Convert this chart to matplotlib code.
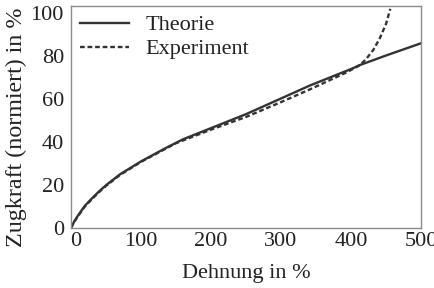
import numpy as np
import matplotlib
matplotlib.use("Agg")
import matplotlib.pyplot as plt
import matplotlib.transforms as mtransforms

# values
theorie_x = [0, 5, 10, 20, 30, 40, 50, 70, 100, 134, 160, 200, 250, 300, 341, 400, 413, 450, 500]
theorie_y = [0, 3.2, 5.8, 10.4, 13.8, 17, 19.9, 25, 31, 37, 41.3, 46.5, 53, 60.3, 66.3, 74, 75.9, 80.3, 86]

exp_x = [0, 5, 10, 20, 30, 40, 50, 70, 100, 150, 200, 250, 300, 341, 394, 413, 422, 432, 441, 450, 456]
exp_y = [0, 3.0, 5.5, 10.1, 13.5, 16.7, 19.6, 24.7, 30.8, 39.5, 45.8, 51.7, 58.6, 64.5, 72.5, 75.9, 78.8, 83.0, 88.3, 95, 102]

plt.rcParams['font.family'] = ['Liberation Serif', 'DejaVu Serif']
plt.rcParams['font.size'] = 16

fig = plt.figure(figsize=(4.35, 2.88), dpi=100)
ax = fig.add_axes([0.163, 0.208, 0.805, 0.771])

line_col = '#333333'
ax.plot(theorie_x, theorie_y, color=line_col, lw=1.7, label='Theorie')
ax.plot(exp_x, exp_y, color=line_col, lw=1.7, ls=(0, (2.0, 1.2)), label='Experiment')

ax.set_xlim(0, 500)
ax.set_ylim(0, 103.3)
ax.set_xticks([0, 100, 200, 300, 400, 500])
ax.set_yticks([0, 20, 40, 60, 80, 100])
ax.tick_params(length=0, colors='#222222')
ax.tick_params(axis='x', pad=3)
ax.tick_params(axis='y', pad=5)

# nudge the x "0" label right, away from the y "0"
lbl0 = ax.get_xticklabels()[0]
lbl0.set_transform(lbl0.get_transform() + mtransforms.ScaledTranslation(5 / 100, 0, fig.dpi_scale_trans))

for s in ax.spines.values():
    s.set_color('#8a8a8a')
    s.set_linewidth(1.0)

ax.set_xlabel('Dehnung in %', labelpad=9, color='#222222')
ax.set_ylabel('Zugkraft (normiert) in %', color='#222222', fontsize=17.3)
ax.yaxis.set_label_coords(-0.125, 0.455)

ax.legend(loc='upper left', frameon=False, handlelength=2.2, handletextpad=0.75,
          borderaxespad=0.1, labelspacing=0.15, borderpad=0.3, labelcolor='#222222')

fig.savefig('out.png', dpi=100)
